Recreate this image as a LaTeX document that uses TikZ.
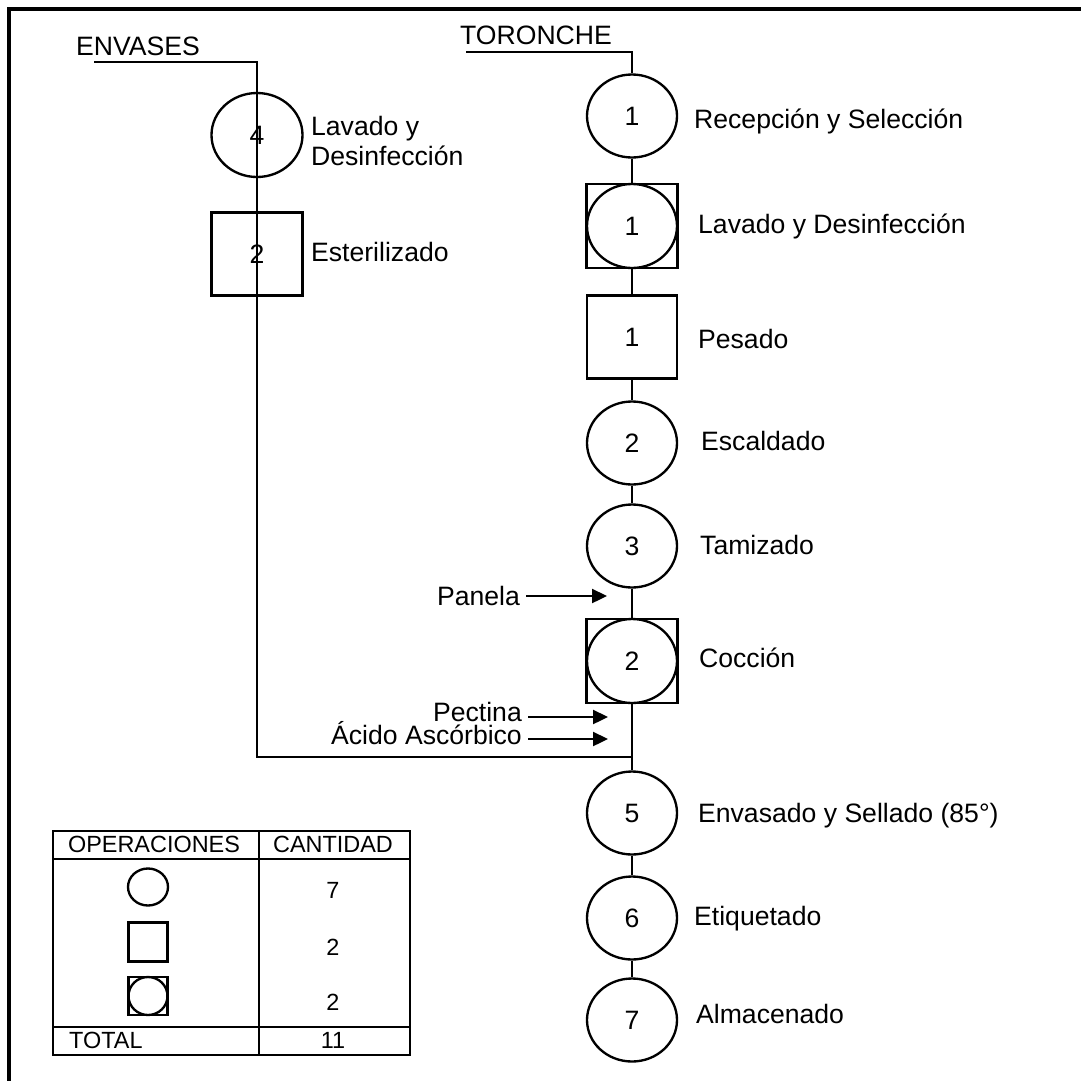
\documentclass[tikz,border=0pt]{standalone}
\usepackage{fontspec}
\setmainfont{Liberation Sans}
\usetikzlibrary{shapes.geometric,arrows.meta}

\tikzset{
  op/.style={draw, ellipse, line width=1pt, inner sep=0pt, minimum width=13.5mm, minimum height=12.45mm},
  insp/.style={draw, rectangle, line width=1pt, inner sep=0pt, minimum width=13.5mm, minimum height=12.45mm},
  etiq/.style={anchor=base west, inner sep=0pt, align=left},
  insumo/.style={anchor=base east, inner sep=0pt},
  flecha/.style={-{Triangle[length=2.25mm, width=2.1mm]}, line width=1pt, shorten <=0.75mm},
  tabla/.style={inner sep=0pt, font=\fontsize{10}{12}\selectfont},
}

\begin{document}
\begin{tikzpicture}[x=0.15mm, y=-0.15mm, line width=1pt, font=\fontsize{11.35}{12.6}\selectfont]
  \useasboundingbox (0,0) rectangle (1081,1081);
  \draw[line width=1.3pt] (1081,9) -- (9,9) -- (9,1081); % marco

  % envases
  \node[etiq] (envases) at (75,55) {ENVASES};
  \coordinate (envA) at (94,62);
  \coordinate (envB) at (257,757);
  \coordinate (jun) at (632,757);
  \node[op, minimum width=13.65mm, minimum height=12.6mm] (e4) at (257,135) {4};
  \node[etiq] (e4t) at (310,165) {Lavado y\\Desinfección};
  \node[insp, minimum width=13.65mm] (e2) at (257,254) {2};
  \node[etiq] (e2t) at (310,261) {Esterilizado};
  \draw (envA) -| (envB) -- (jun);

  % toronche
  \node[etiq] (toronche) at (459,44) {TORONCHE};
  \coordinate (torA) at (466,52);

  \node[op] (r1) at (632,116) {1};
  \node[etiq] (r1t) at (693,128) {Recepción y Selección};

  \node[insp, minimum width=13.65mm, minimum height=12.6mm] (l1) at (632,226) {};
  \node[op, minimum height=12.6mm] (l1c) at (l1) {1};
  \node[etiq] (l1t) at (697,233) {Lavado y Desinfección};

  \node[insp] (p1) at (632,337) {1};
  \node[etiq] (p1t) at (697,348) {Pesado};

  \node[op] (s2) at (632,443) {2};
  \node[etiq] (s2t) at (700,450) {Escaldado};

  \node[op] (t3) at (632,546) {3};
  \node[etiq] (t3t) at (699,554) {Tamizado};

  \node[insp, minimum width=13.65mm, minimum height=12.6mm] (c2) at (632,661) {};
  \node[op, minimum height=12.6mm] (c2c) at (c2) {2};
  \node[etiq] (c2t) at (698,667) {Cocción};

  \node[op] (v5) at (632,813) {5};
  \node[etiq] (v5t) at (697,822) {Envasado y Sellado (85°)};

  \node[op] (q6) at (632,918) {6};
  \node[etiq] (q6t) at (693,925) {Etiquetado};

  \node[op] (a7) at (632,1020) {7};
  \node[etiq] (a7t) at (695,1023) {Almacenado};

  \draw (torA) -| (r1.north);
  \draw (r1) -- (l1) -- (p1) -- (s2) -- (t3) -- (c2) -- (v5) -- (q6) -- (a7);

  % insumos
  \node[insumo] (panela) at (521,605) {Panela};
  \node[insumo] (pectina) at (523,721) {Pectina};
  \node[insumo] (acido) at (523,744) {Ácido Ascórbico};
  \coordinate (panT) at (607,596);
  \coordinate (pecT) at (608,717);
  \coordinate (acT) at (608,739);
  \draw[flecha] (panela.east |- panT) -- (panT);
  \draw[flecha] (pectina.east |- pecT) -- (pecT);
  \draw[flecha] (acido.east |- acT) -- (acT);

  % resumen
  \draw (53,831) rectangle (410,1055);
  \draw (259,831) -- (259,1055);
  \draw (53,859) -- (410,859);
  \draw (53,1027) -- (410,1027);
  \node[tabla] (hop) at (154,844) {OPERACIONES};
  \node[tabla] (hca) at (333,844) {CANTIDAD};
  \node[op, minimum width=6mm, minimum height=5.55mm] (so) at (148,887) {};
  \node[tabla] (no) at (333,890) {7};
  \node[insp, minimum width=5.85mm, minimum height=5.85mm] (si) at (148,942) {};
  \node[tabla] (ni) at (333,947) {2};
  \node[insp, minimum width=5.85mm, minimum height=5.7mm] (sc) at (148,996) {};
  \node[op, minimum width=5.85mm, minimum height=5.7mm] (scc) at (sc) {};
  \node[tabla] (nc) at (333,1002) {2};
  \node[tabla, anchor=west] (tot) at (68,1040) {TOTAL};
  \node[tabla] (ntot) at (333,1040) {11};
\end{tikzpicture}
\end{document}
